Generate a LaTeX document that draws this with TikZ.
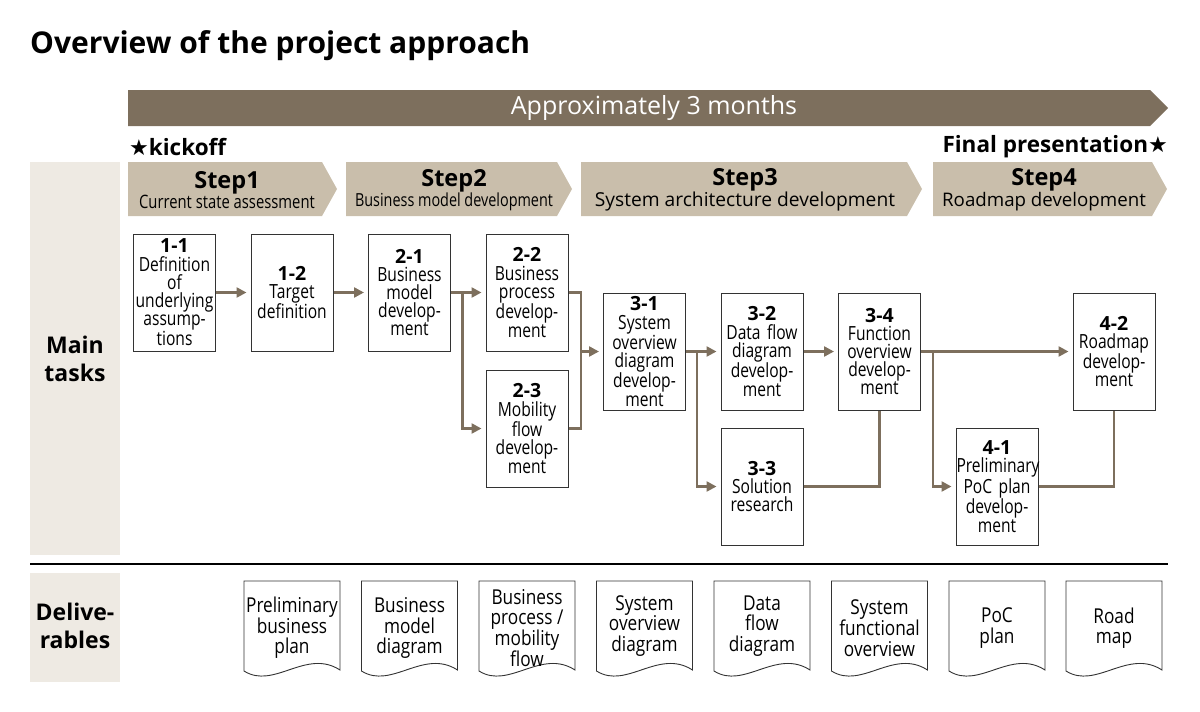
\documentclass[tikz,border=0pt]{standalone}
\usepackage{fontspec}
\setmainfont{Open Sans}
\newfontfamily\condfont{Open Sans}[FakeStretch=0.8]
\newfontfamily\docfont{Open Sans}[FakeStretch=0.84]
\newfontfamily\symfont{DejaVu Sans}
\usetikzlibrary{arrows.meta}
\definecolor{darktaupe}{HTML}{7D6F5D}
\definecolor{steptan}{HTML}{C9BEAB}
\definecolor{sidebeige}{HTML}{EEEAE3}
\tikzstyle{task} = [draw=black!80, fill=white, line width=1pt, minimum width=82pt, minimum height=117pt, inner sep=0pt, text width=81pt, align=center, font=\condfont\fontsize{19.5}{18.2}\selectfont]
\tikzstyle{doc} = [align=center, inner sep=0pt, font=\docfont\fontsize{20.5}{20.5}\selectfont]
\tikzstyle{steplabel} = [align=center, inner sep=0pt]
\tikzstyle{side} = [align=center, inner sep=0pt, font=\bfseries\fontsize{23}{28}\selectfont]
\tikzstyle{flow} = [darktaupe, line width=2.4pt, -{Triangle[length=10pt,width=10pt]}, shorten >=4pt]
\tikzstyle{link} = [darktaupe, line width=2.4pt]

\begin{document}
\begin{tikzpicture}[x=1pt,y=-1pt]
  \useasboundingbox (0,0) rectangle (1200,712);
  % heading and time bar
  \node (title) at (30,46) [anchor=west, inner sep=0pt, font=\bfseries\fontsize{30}{32}\selectfont] {Overview of the project approach};
  \fill [darktaupe] (128,90) -- (1150,90) -- (1168,108) -- (1150,126) -- (128,126) -- cycle;
  \node (months) at (654,108) [text=white, inner sep=0pt, font=\fontsize{25}{27}\selectfont] {Approximately 3 months};
  \node (kick) at (129,147) [anchor=west, inner sep=0pt, font=\bfseries\fontsize{22.5}{24}\selectfont] {{\symfont\fontsize{22}{24}\selectfont ★}kickoff};
  \node (final) at (1168,147) [anchor=east, inner sep=0pt, font=\bfseries\fontsize{22.5}{24}\selectfont] {Final presentation{\symfont\fontsize{22}{24}\selectfont ★}};
  % steps
  \foreach \l/\r in {128/322, 346/557, 581/907, 933/1152}
    \fill [steptan] (\l,162) -- (\r,162) -- (\r+15,189) -- (\r,216) -- (\l,216) -- cycle;
  \node (s1) at (227,190) [steplabel] {{\bfseries\fontsize{23.5}{22}\selectfont Step1}\\{\condfont\fontsize{18.5}{19}\selectfont Current state assessment}};
  \node (s2) at (454,190) [steplabel] {{\bfseries\fontsize{23.5}{22}\selectfont Step2}\\{\condfont\fontsize{18}{19}\selectfont Business model development}};
  \node (s3) at (745,190) [steplabel] {{\bfseries\fontsize{23.5}{22}\selectfont Step3}\\{\fontsize{19.2}{19}\selectfont System architecture development}};
  \node (s4) at (1044,190) [steplabel] {{\bfseries\fontsize{23.5}{22}\selectfont Step4}\\{\fontsize{18.7}{19}\selectfont Roadmap development}};
  % side labels
  \fill [sidebeige] (30,162) rectangle (120,555);
  \fill [sidebeige] (30,573) rectangle (120,682);
  \node (main) at (75,359) [side] {Main\\tasks};
  \node (deliv) at (75,626) [side] {Delive-\\rables};
  \draw [black, line width=1.2pt] (30,564) -- (1168,564);
  % tasks
  \node (a) at (174.5,292.5) [task] {{\normalfont\bfseries 1-1}\\Definition\\of\\underlying\\assump-\\tions};
  \node (b) at (292,292.5) [task] {{\normalfont\bfseries 1-2}\\Target\\definition};
  \node (c) at (409.5,292.5) [task] {{\normalfont\bfseries 2-1}\\Business\\model\\develop-\\ment};
  \node (d) at (527,292.5) [task] {{\normalfont\bfseries 2-2}\\Business\\process\\develop-\\ment};
  \node (e) at (527,428.5) [task] {{\normalfont\bfseries 2-3}\\Mobility\\flow\\develop-\\ment};
  \node (f) at (644.5,351.5) [task] {{\normalfont\bfseries 3-1}\\System\\overview\\diagram\\develop-\\ment};
  \node (g) at (762,351.5) [task] {{\normalfont\bfseries 3-2}\\Data flow\\diagram\\develop-\\ment};
  \node (h) at (762,486.5) [task] {{\normalfont\bfseries 3-3}\\Solution\\research};
  \node (i) at (879.5,351.5) [task] {{\normalfont\bfseries 3-4}\\Function\\overview\\develop-\\ment};
  \node (j) at (997,486.5) [task] {{\normalfont\bfseries 4-1}\\Preliminary\\PoC plan\\develop-\\ment};
  \node (k) at (1114,351.5) [task] {{\normalfont\bfseries 4-2}\\Roadmap\\develop-\\ment};
  \coordinate (cd) at (462.5,292.5);
  \coordinate (de) at (581,351.5);
  \coordinate (fg) at (697,351.5);
  \coordinate (ik) at (933,351.5);
  \draw [flow] (a) -- (b);
  \draw [flow] (b) -- (c);
  \draw [flow] (c) -- (d);
  \draw [flow] (cd) |- (e);
  \draw [link] (d) -| (de);
  \draw [link] (e) -| (de);
  \draw [flow] (de) -- (f);
  \draw [flow] (f) -- (g);
  \draw [flow] (fg) |- (h);
  \draw [flow] (g) -- (i);
  \draw [link] (h) -| (i);
  \draw [flow] (i) -- (k);
  \draw [flow] (ik) |- (j);
  \draw [link] (j) -| (k);
  % deliverables
  \foreach \x in {292,409.5,527,644.5,762,879.5,997,1114}
    \draw [black!80, line width=0.9pt, fill=white] (\x-48,581) -- (\x-48,671) .. controls (\x-18,690) and (\x+14,648) .. (\x+48,670) -- (\x+48,581) -- cycle;
  \node (p) at (292,628) [doc] {Preliminary\\business\\plan};
  \node (q) at (409.5,628) [doc] {Business\\model\\diagram};
  \node (r) at (527,628) [doc] {Business\\process /\\mobility\\flow};
  \node (s) at (644.5,626) [doc] {System\\overview\\diagram};
  \node (t) at (762,626) [doc] {Data\\flow\\diagram};
  \node (u) at (879.5,628) [doc] {System\\functional\\overview};
  \node (v) at (997,628) [doc] {PoC\\plan};
  \node (w) at (1114,628) [doc] {Road\\map};
\end{tikzpicture}
\end{document}
